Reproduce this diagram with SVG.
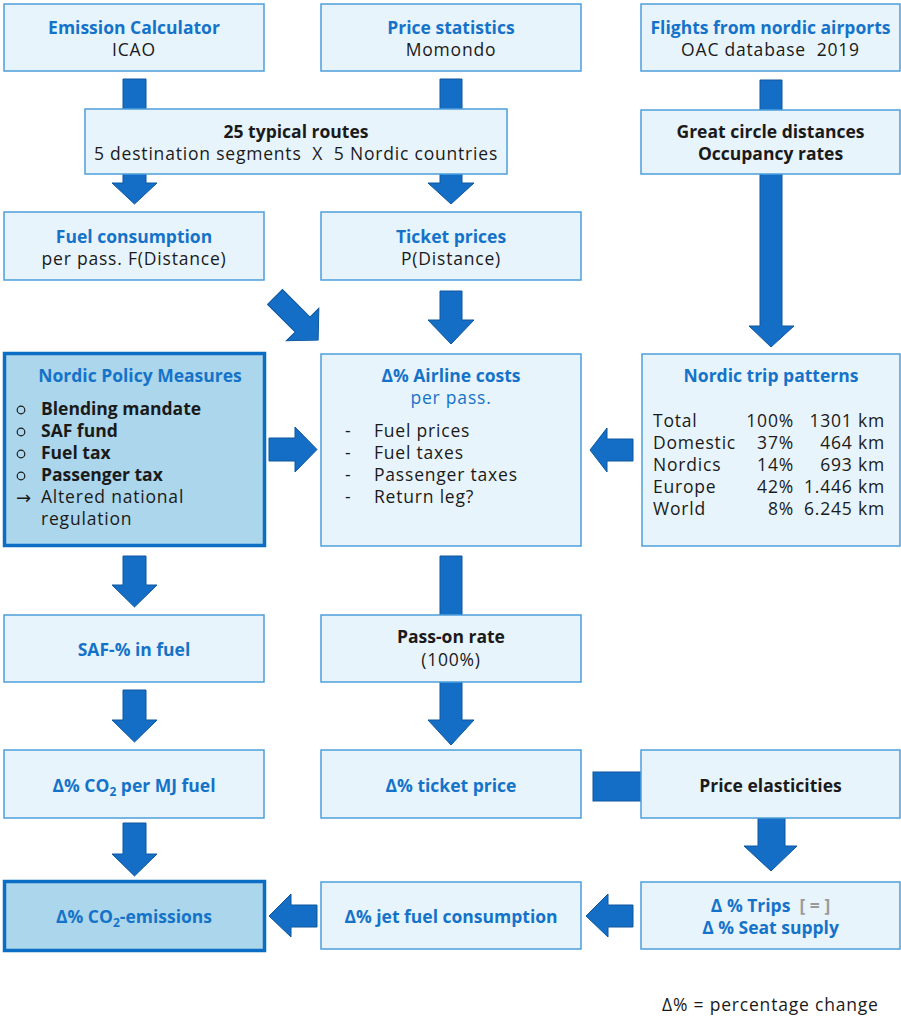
<svg xmlns="http://www.w3.org/2000/svg" width="901" height="1016" viewBox="0 0 901 1016">
<style>
.box{fill:#e8f4fb;stroke:#4d9fda;stroke-width:1.5}
.hbox{fill:#acd6eb;stroke:#0b6dc4;stroke-width:3.5}
.arr{fill:#156ec6;stroke:#0e579d;stroke-width:1}
text{font-family:"Open Sans","Liberation Sans",sans-serif;font-size:17.5px;fill:#1a1a1a;letter-spacing:0.8px}
.c{text-anchor:middle}
.r{text-anchor:end}
.b{font-weight:bold;letter-spacing:0}
.blue{fill:#1473c9}
.gray{fill:#9a9a9a}
.sub{font-size:12px}
.sym{font-family:"DejaVu Sans",sans-serif;font-size:18px;letter-spacing:0}
</style>
<g id="connectors">
<polygon class="arr" points="123,79 146,79 146,183 157,183 134.5,204 112,183 123,183"/>
<polygon class="arr" points="440,79 462,79 462,183 474,183 451,204 428,183 440,183"/>
<polygon class="arr" points="760,80 782,80 782,326 794,326 771,347 749,326 760,326"/>
<polygon class="arr" transform="translate(275,297) rotate(-45)" points="-10.5,0 10.5,0 10.5,39 23,39 0,61 -23,39 -10.5,39"/>
<polygon class="arr" points="440,291 462,291 462,320 474,320 451,344 428,320 440,320"/>
<polygon class="arr" points="269,438 295,438 295,427 317,449.5 295,472 295,461 269,461"/>
<polygon class="arr" points="633,439 607,439 607,428 590,450 607,472 607,461 633,461"/>
<polygon class="arr" points="123,556 146,556 146,585 157,585 134.5,607 112,585 123,585"/>
<polygon class="arr" points="440,556 462,556 462,720 474,720 451,745 428,720 440,720"/>
<polygon class="arr" points="123,690 146,690 146,720 157,720 134.5,742 112,720 123,720"/>
<rect class="arr" x="593" y="772" width="50" height="29"/>
<polygon class="arr" points="758,818 785,818 785,846 797,846 771,871 744,846 758,846"/>
<polygon class="arr" points="123,823 146,823 146,854 157,854 134.5,876 112,854 123,854"/>
<polygon class="arr" points="317,905 291,905 291,894 269,916 291,937 291,927 317,927"/>
<polygon class="arr" points="633,905 608,905 608,894 586,916 608,937 608,927 633,927"/>
</g>
<g id="emission-calculator">
<rect class="box" x="4" y="4" width="260" height="67"/>
<text class="c b blue" x="134" y="34">Emission Calculator</text>
<text class="c" x="134" y="56">ICAO</text>
</g>
<g id="price-statistics">
<rect class="box" x="321" y="4" width="260" height="67"/>
<text class="c b blue" x="451" y="34">Price statistics</text>
<text class="c" x="451" y="56">Momondo</text>
</g>
<g id="flights">
<rect class="box" x="641" y="4" width="259" height="67"/>
<text class="c b blue" x="770.5" y="34">Flights from nordic airports</text>
<text class="c" x="770.5" y="56" xml:space="preserve">OAC database  2019</text>
</g>
<g id="typical-routes">
<rect class="box" x="85" y="109" width="422" height="65"/>
<text class="c b" x="296" y="138">25 typical routes</text>
<text class="c" x="296" y="160" xml:space="preserve">5 destination segments  X  5 Nordic countries</text>
</g>
<g id="great-circle">
<rect class="box" x="641" y="110" width="259" height="64"/>
<text class="c b" x="770.5" y="138">Great circle distances</text>
<text class="c b" x="770.5" y="160">Occupancy rates</text>
</g>
<g id="fuel-consumption">
<rect class="box" x="4" y="212" width="260" height="68"/>
<text class="c b blue" x="134" y="243">Fuel consumption</text>
<text class="c" x="134" y="265">per pass. F(Distance)</text>
</g>
<g id="ticket-prices">
<rect class="box" x="321" y="212" width="260" height="68"/>
<text class="c b blue" x="451" y="243">Ticket prices</text>
<text class="c" x="451" y="265">P(Distance)</text>
</g>
<g id="policy-measures">
<rect class="hbox" x="4.5" y="353.5" width="260" height="192"/>
<text class="c b blue" x="140" y="382">Nordic Policy Measures</text>
<circle cx="21" cy="410" r="3.8" fill="none" stroke="#1a1a1a" stroke-width="1.2"/>
<circle cx="21" cy="432" r="3.8" fill="none" stroke="#1a1a1a" stroke-width="1.2"/>
<circle cx="21" cy="454" r="3.8" fill="none" stroke="#1a1a1a" stroke-width="1.2"/>
<circle cx="21" cy="476" r="3.8" fill="none" stroke="#1a1a1a" stroke-width="1.2"/>
<text class="b" x="41" y="415">Blending mandate</text>
<text class="b" x="41" y="437">SAF fund</text>
<text class="b" x="41" y="459">Fuel tax</text>
<text class="b" x="41" y="481">Passenger tax</text>
<text class="sym" x="16" y="504">→</text>
<text x="41" y="503">Altered national</text>
<text x="41" y="525">regulation</text>
</g>
<g id="airline-costs">
<rect class="box" x="321" y="354" width="260" height="192"/>
<text class="c b blue" x="451" y="382">Δ% Airline costs</text>
<text class="c blue" x="451" y="404">per pass.</text>
<text x="345" y="437">-</text>
<text x="345" y="459">-</text>
<text x="345" y="481">-</text>
<text x="345" y="503">-</text>
<text x="374" y="437">Fuel prices</text>
<text x="374" y="459">Fuel taxes</text>
<text x="374" y="481">Passenger taxes</text>
<text x="374" y="503">Return leg?</text>
</g>
<g id="trip-patterns">
<rect class="box" x="642" y="354" width="258" height="192"/>
<text class="c b blue" x="771" y="382">Nordic trip patterns</text>
<text x="653" y="427">Total</text>
<text x="653" y="449">Domestic</text>
<text x="653" y="471">Nordics</text>
<text x="653" y="493">Europe</text>
<text x="653" y="515">World</text>
<text class="r" x="794" y="427">100%</text>
<text class="r" x="794" y="449">37%</text>
<text class="r" x="794" y="471">14%</text>
<text class="r" x="794" y="493">42%</text>
<text class="r" x="794" y="515">8%</text>
<text class="r" x="885" y="427">1301 km</text>
<text class="r" x="885" y="449">464 km</text>
<text class="r" x="885" y="471">693 km</text>
<text class="r" x="885" y="493">1.446 km</text>
<text class="r" x="885" y="515">6.245 km</text>
</g>
<g id="saf-share">
<rect class="box" x="4" y="615" width="260" height="67"/>
<text class="c b blue" x="134" y="656">SAF-% in fuel</text>
</g>
<g id="pass-on-rate">
<rect class="box" x="321" y="615" width="260" height="67"/>
<text class="c b" x="451" y="643">Pass-on rate</text>
<text class="c" x="451" y="666">(100%)</text>
</g>
<g id="co2-per-mj">
<rect class="box" x="4" y="750" width="260" height="68"/>
<text class="c b blue" x="134" y="792">Δ% CO<tspan class="sub" dy="4">2</tspan><tspan dy="-4"> per MJ fuel</tspan></text>
</g>
<g id="ticket-price">
<rect class="box" x="321" y="750" width="260" height="68"/>
<text class="c b blue" x="451" y="792">Δ% ticket price</text>
</g>
<g id="price-elasticities">
<rect class="box" x="641" y="750" width="259" height="68"/>
<text class="c b" x="770.5" y="792">Price elasticities</text>
</g>
<g id="co2-emissions">
<rect class="hbox" x="4.5" y="881.5" width="260" height="69"/>
<text class="c b blue" x="134" y="923">Δ% CO<tspan class="sub" dy="4">2</tspan><tspan dy="-4">-emissions</tspan></text>
</g>
<g id="jet-fuel">
<rect class="box" x="321" y="882" width="260" height="67"/>
<text class="c b blue" x="451" y="923">Δ% jet fuel consumption</text>
</g>
<g id="trips">
<rect class="box" x="641" y="882" width="259" height="67"/>
<text class="c b blue" x="770.5" y="912" xml:space="preserve">Δ % Trips  <tspan class="gray">[ = ]</tspan></text>
<text class="c b blue" x="770.5" y="934">Δ % Seat supply</text>
</g>
<text x="662" y="1011">Δ% = percentage change</text>
</svg>
